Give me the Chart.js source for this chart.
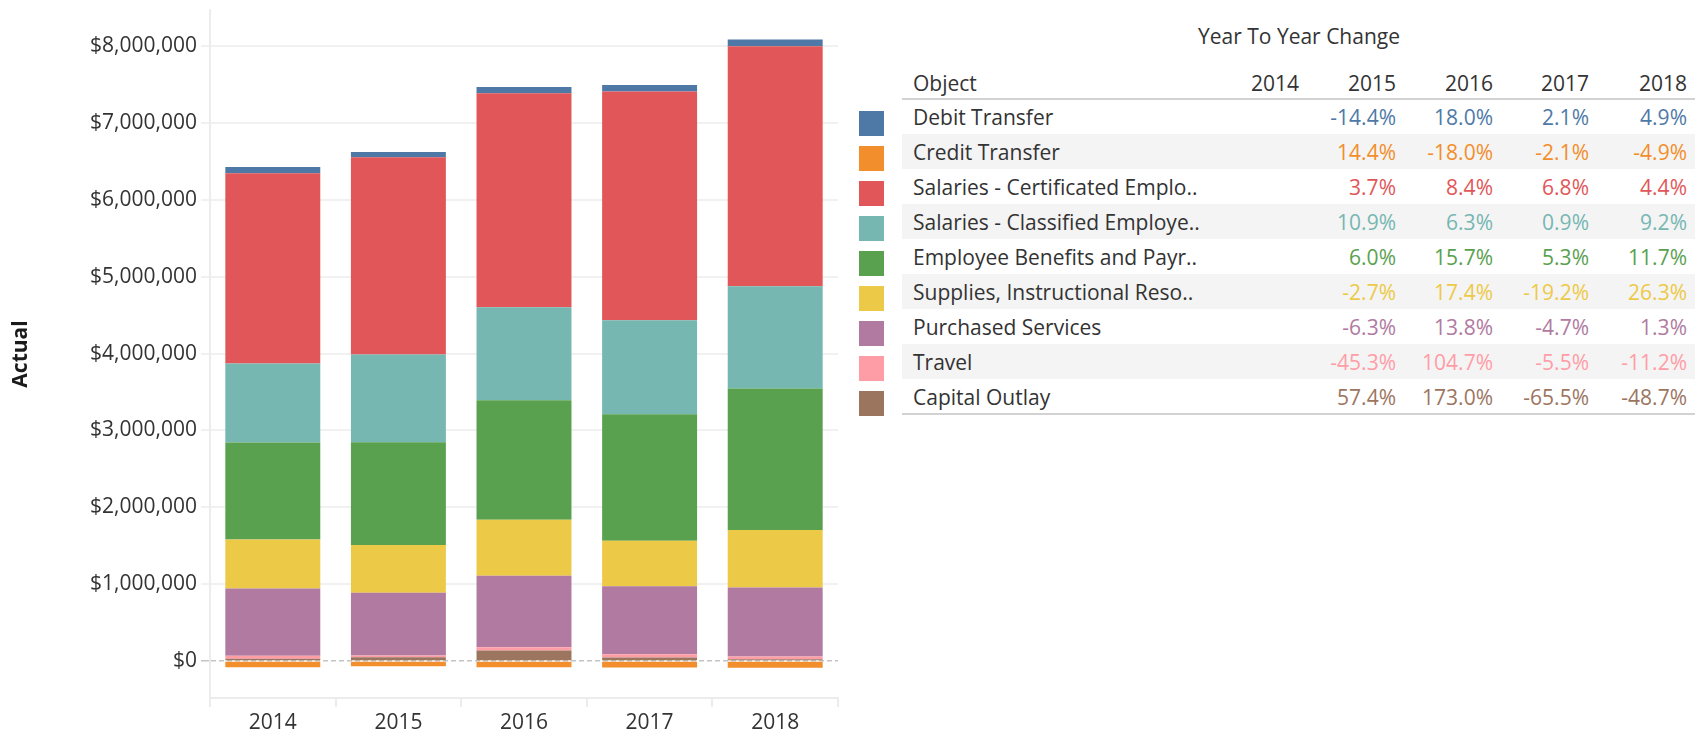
<!DOCTYPE html>
<html>
<head>
<meta charset="utf-8">
<script src="https://cdn.jsdelivr.net/npm/chart.js@4.4.0/dist/chart.umd.min.js"></script>
<style>
  body { margin:0; width:1704px; height:733px; position:relative; background:#fff;
         font-family:'Open Sans', sans-serif; color:#333; overflow:hidden; }
  #chartBox { position:absolute; left:0; top:0; width:845px; height:733px; }
</style>
</head>
<body>
<div id="chartBox"><canvas id="chart"></canvas></div>
<div id="yoy"></div>
<script>
// years on the x axis / table columns
const years = ['2014', '2015', '2016', '2017', '2018'];
const yTicks = [0, 1000000, 2000000, 3000000, 4000000, 5000000, 6000000, 7000000, 8000000];

// object names as shown in the table (legend order)
const objects = [
  'Debit Transfer',
  'Credit Transfer',
  'Salaries - Certificated Emplo..',
  'Salaries - Classified Employe..',
  'Employee Benefits and Payr..',
  'Supplies, Instructional Reso..',
  'Purchased Services',
  'Travel',
  'Capital Outlay'
];
const colors = ['#4e79a7', '#f28e2b', '#e15759', '#76b7b2', '#59a14f', '#edc948', '#b07aa1', '#ff9da7', '#9c755f'];

// actual amounts per year
const debitTransfer  = [80000, 68500, 80800, 82500, 86500];
const creditTransfer = [-80000, -68500, -80800, -82500, -86500];
const salCertificated = [2474000, 2566000, 2785000, 2978000, 3125000];
const salClassified  = [1029000, 1141000, 1210000, 1222000, 1330000];
const benefits       = [1263000, 1339000, 1553000, 1646000, 1840000];
const supplies       = [638000, 621000, 729000, 590000, 746000];
const purchased      = [872000, 817000, 930000, 886000, 898000];
const travel         = [39000, 21500, 44000, 41500, 37000];
const capitalOutlay  = [32000, 50000, 137000, 47000, 24000];
const series = [debitTransfer, creditTransfer, salCertificated, salClassified, benefits,
                supplies, purchased, travel, capitalOutlay];

// year to year change (%), 2014 has none
const pctDebit      = [null, -14.4, 18.0, 2.1, 4.9];
const pctCredit     = [null, 14.4, -18.0, -2.1, -4.9];
const pctCertified  = [null, 3.7, 8.4, 6.8, 4.4];
const pctClassified = [null, 10.9, 6.3, 0.9, 9.2];
const pctBenefits   = [null, 6.0, 15.7, 5.3, 11.7];
const pctSupplies   = [null, -2.7, 17.4, -19.2, 26.3];
const pctPurchased  = [null, -6.3, 13.8, -4.7, 1.3];
const pctTravel     = [null, -45.3, 104.7, -5.5, -11.2];
const pctCapital    = [null, 57.4, 173.0, -65.5, -48.7];
const pctRows = [pctDebit, pctCredit, pctCertified, pctClassified, pctBenefits,
                 pctSupplies, pctPurchased, pctTravel, pctCapital];

// ---- chart ----
Chart.defaults.font.family = "'Open Sans', sans-serif";

// first item in the list sits on top of the stack, so add them reversed
const datasets = [];
for (let i = objects.length - 1; i >= 0; i--) {
  datasets.push({
    label: objects[i],
    data: series[i],
    backgroundColor: colors[i],
    borderWidth: 0,
    barPercentage: 0.756,
    categoryPercentage: 1
  });
}

const ctx = document.getElementById('chart').getContext('2d');
new Chart(ctx, {
  type: 'bar',
  data: { labels: years, datasets: datasets },
  options: {
    responsive: true,
    maintainAspectRatio: false,
    animation: false,
    layout: { padding: { top: 10, right: 7, bottom: 0, left: 0 } },
    plugins: { legend: { display: false }, tooltip: { enabled: false } },
    scales: {
      x: {
        stacked: true,
        grid: { drawOnChartArea: false, color: '#ececec', lineWidth: 2, tickLength: 9 },
        border: { color: '#ececec', width: 2 },
        ticks: { color: '#333', font: { size: 21 }, padding: 3 },
        afterFit: s => { s.height = 35; s.paddingLeft = 0; s.paddingRight = 0; }
      },
      y: {
        stacked: true,
        min: -480000,
        max: 8470000,
        afterBuildTicks: s => { s.ticks = yTicks.map(v => ({ value: v })); },
        afterFit: s => { s.width = 210; s.paddingTop = 0; s.paddingBottom = 0; },
        grid: {
          color: c => (c.tick && c.tick.value === 0) ? '#c4c4c4' : '#f1f1f1',
          lineWidth: c => (c.tick && c.tick.value === 0) ? 1.5 : 2,
          tickLength: 9
        },
        border: {
          color: '#ececec', width: 2,
          dash: c => (c.tick && c.tick.value === 0) ? [5, 3] : []
        },
        ticks: {
          color: '#333', font: { size: 21 }, padding: 4,
          callback: v => '$' + Number(v).toLocaleString('en-US')
        },
        title: {
          display: true, text: 'Actual', color: '#1a1a1a',
          font: { size: 21, weight: 'bold' }, padding: { top: 8, bottom: 0 }
        }
      }
    }
  }
});

// ---- year to year change table ----
const box = document.getElementById('yoy');
const colRight = [1299, 1396, 1493, 1589, 1687];
const rowTop = 99, rowH = 35;

function el(css, text) {
  const d = document.createElement('div');
  d.style.cssText = css;
  if (text !== undefined) d.textContent = text;
  box.appendChild(d);
  return d;
}

// title + header
el('position:absolute;left:900px;width:798px;top:19px;text-align:center;font-size:21px;line-height:35px;color:#333;', 'Year To Year Change');
el('position:absolute;left:913px;top:66px;font-size:21px;line-height:35px;color:#333;', 'Object');
years.forEach((y, j) => {
  el('position:absolute;left:' + (colRight[j] - 120) + 'px;top:66px;width:120px;text-align:right;font-size:21px;line-height:35px;color:#333;', y);
});

// striped rows
objects.forEach((name, i) => {
  const top = rowTop + i * rowH;
  if (i % 2 === 1) el('position:absolute;left:902px;width:793px;top:' + top + 'px;height:' + rowH + 'px;background:#f4f4f4;');
  el('position:absolute;left:859px;top:' + (top + 12) + 'px;width:25px;height:25px;background:' + colors[i] + ';');
  el('position:absolute;left:913px;top:' + (top + 1) + 'px;font-size:21px;line-height:35px;color:#333;white-space:nowrap;', name);
  pctRows[i].forEach((p, j) => {
    if (p === null) return;
    el('position:absolute;left:' + (colRight[j] - 120) + 'px;top:' + (top + 1) + 'px;width:120px;text-align:right;font-size:21px;line-height:35px;color:' + colors[i] + ';', p.toFixed(1) + '%');
  });
});

// rules under header and at the end
el('position:absolute;left:902px;width:793px;top:98px;height:2px;background:#d2d2d2;');
el('position:absolute;left:902px;width:793px;top:' + (rowTop + objects.length * rowH - 1) + 'px;height:2px;background:#d2d2d2;');
</script>
</body>
</html>
